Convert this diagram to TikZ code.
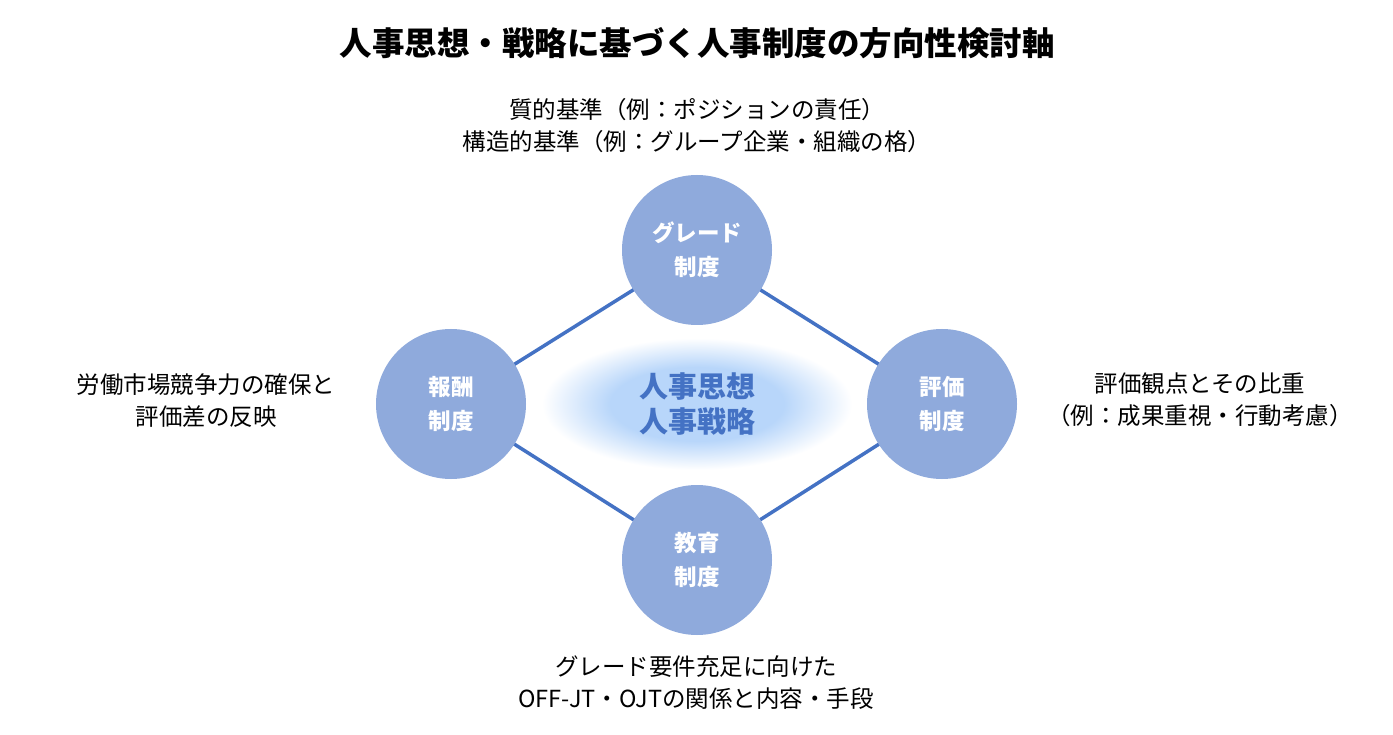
\documentclass[tikz,border=0pt]{standalone}
\usepackage{fontspec}
\setmainfont{Noto Sans CJK JP}
\usetikzlibrary{backgrounds}
\definecolor{linecol}{RGB}{68,114,196}
\definecolor{circfill}{RGB}{143,170,220}
\definecolor{glowin}{RGB}{184,214,250}
\definecolor{ctext}{RGB}{68,114,196}
\pgfdeclareradialshading{glowshade}{\pgfpoint{0bp}{0bp}}{%
  color(0bp)=(glowin); color(14bp)=(glowin); color(25bp)=(white); color(50bp)=(white)}
\tikzset{
  sysnode/.style={circle, fill=circfill, minimum size=150pt, inner sep=0pt,
    text=white, font=\fontsize{22.5}{34}\selectfont\bfseries, align=center},
  lbl/.style={font=\fontsize{23.5}{32}\selectfont, align=center, text=black, inner sep=0pt},
  conn/.style={draw=linecol, line width=3.5pt}
}
\begin{document}
\begin{tikzpicture}[x=1pt,y=-1pt]
\useasboundingbox (0,0) rectangle (1393,735);
% nodes
\node[sysnode] (grade) at (697,250) {グレード\\制度};
\node[sysnode] (hosyu) at (451,404) {報酬\\制度};
\node[sysnode] (hyoka) at (942,404) {評価\\制度};
\node[sysnode] (kyoiku) at (697,560) {教育\\制度};
\begin{scope}[on background layer]
\fill[white] (0,0) rectangle (1393,735);
\shade[shading=glowshade] (697,404) ellipse [x radius=155, y radius=66];
\draw[conn] (grade.center) -- (hyoka.center) -- (kyoiku.center) -- (hosyu.center) -- (grade.center);
\end{scope}
\node[font=\fontsize{29}{35}\selectfont\bfseries, text=ctext, align=center, inner sep=0pt] (core) at (697,404) {人事思想\\人事戦略};
% title
\node[font=\fontsize{32.5}{36}\selectfont\bfseries, inner sep=0pt] (title) at (697,43) {人事思想・戦略に基づく人事制度の方向性検討軸};
% labels
\node[lbl] (lgrade) at (697,126) {質的基準（例：ポジションの責任）\\構造的基準（例：グループ企業・組織の格）};
\node[lbl] (lhosyu) at (206,401) {労働市場競争力の確保と\\評価差の反映};
\node[lbl] (lhyoka) at (1200,400) {評価観点とその比重\\（例：成果重視・行動考慮）};
\node[lbl] (lkyoiku) at (696,683) {グレード要件充足に向けた\\OFF-JT・OJTの関係と内容・手段};
\end{tikzpicture}
\end{document}
